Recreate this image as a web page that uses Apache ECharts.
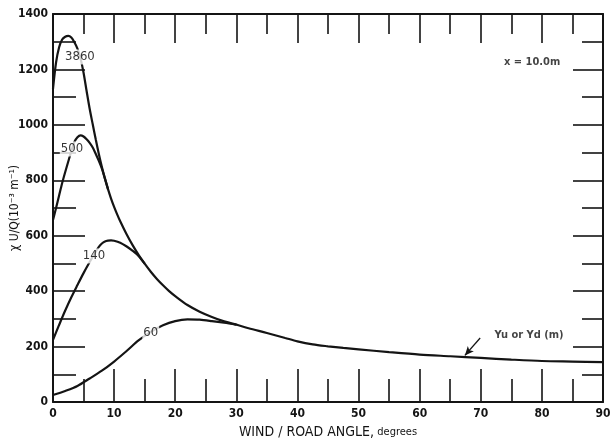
<!DOCTYPE html>
<html>
<head>
<meta charset="utf-8">
<script src="https://cdn.jsdelivr.net/npm/echarts@6/dist/echarts.min.js"></script>
<style>
html,body{margin:0;padding:0;background:#fff;}
#chart{width:610px;height:443px;}
</style>
</head>
<body>
<div id="chart"></div>
<script>
// ---- data ----
const xTicks = [0,10,20,30,40,50,60,70,80,90];
const yTicks = [0,200,400,600,800,1000,1200,1400];

// curve Y = 3860 m (its tail is the common envelope)
const curve3860X = [0,0.5,1,1.5,2,2.5,3,3.5,4,4.5,5,5.5,6,6.5,7,7.5,8,8.5,9,9.5,10,10.5,11,12,13,14,15,16,17,18,19,20,22,24,26,28,30,32,35,38,40,42.5,45,47.5,50,55,60,65,70,75,80,85,90];
const curve3860Y = [1130,1225,1280,1308,1318,1321,1315,1298,1275,1240,1188,1122,1058,1002,947,895,848,806,768,734,704,677,652,607,567,531,499,470,444,421,400,382,350,326,307,291,279,266,249,231,219,208,201,195,190,180,171,165,159,153,148,146,144];
// curve Y = 500 m
const curve500X = [0,0.5,1,1.5,2,2.5,3,3.5,4,4.5,5,5.5,6,6.5,7,7.5,8,8.5,9];
const curve500Y = [657,700,745,790,830,868,905,938,955,962,958,948,935,918,895,870,842,806,768];
// curve Y = 140 m
const curve140X = [0,1,2,3,4,5,6,7,7.5,8,8.5,9,9.5,10,11,12,13,14,15];
const curve140Y = [224,278,330,378,422,465,505,543,560,572,579,582,583,582,575,562,546,527,499];
// curve Y = 60 m
const curve60X = [0,2,4,6,8,10,12,14,16,18,20,22,24,26,28,30];
const curve60Y = [25,40,58,85,113,146,183,222,253,277,292,298,297,292,286,279];

// curve labels (value of Yu or Yd)
const curveLabelText = ['3860','500','140','60'];
const curveLabelX = [4.4,3.1,6.7,16.0];
const curveLabelY = [1245,913,527,249];

// annotations
const noteText = ['x = 10.0m','Yu or Yd (m)'];
const noteX = [78.4,77.9];
const noteY = [1227,242];
const arrowFrom = [69.9,231];
const arrowTo = [67.4,168];

// ---- chart ----
const zip = (xs, ys) => xs.map((x, i) => [x, ys[i]]);
const INK = '#141414';
const FONT = 'DejaVu Sans Condensed';

function xAx(pos, major, minor, labels) {
  return {
    type: 'value', position: pos, min: 0, max: 90, interval: 10,
    axisLine: {show: true, onZero: false, lineStyle: {color: INK, width: 2}},
    axisTick: {show: true, inside: true, length: major, lineStyle: {color: INK, width: 1.6}},
    minorTick: {show: true, splitNumber: 2, length: minor, lineStyle: {color: INK, width: 1.6}},
    splitLine: {show: false}, minorSplitLine: {show: false},
    axisLabel: {show: labels, color: INK, fontFamily: FONT, fontWeight: 'bold', fontSize: 12, margin: 6,
      formatter: v => xTicks.includes(v) ? String(v) : ''}
  };
}
function yAx(pos, major, minor, labels) {
  return {
    type: 'value', position: pos, min: 0, max: 1400, interval: 200,
    axisLine: {show: true, onZero: false, lineStyle: {color: INK, width: 2}},
    axisTick: {show: true, inside: true, length: major, lineStyle: {color: INK, width: 1.6}},
    minorTick: {show: true, splitNumber: 2, length: minor, lineStyle: {color: INK, width: 1.6}},
    splitLine: {show: false}, minorSplitLine: {show: false},
    axisLabel: {show: labels, color: INK, fontFamily: FONT, fontWeight: 'bold', fontSize: 12, margin: 5,
      formatter: v => yTicks.includes(v) ? String(v) : ''}
  };
}

const bottomX = xAx('bottom', 33, 23, true);
bottomX.name = '{a|WIND / ROAD ANGLE,} {b|degrees}';
bottomX.nameLocation = 'middle';
bottomX.nameGap = 23;
bottomX.nameMoveOverlap = false;
bottomX.nameTextStyle = {rich: {
  a: {fontFamily: FONT, fontSize: 14, color: INK},
  b: {fontFamily: FONT, fontSize: 11, color: INK}
}};
const topX = xAx('top', 29, 20, false);
const leftY = yAx('left', 32, 23, true);
leftY.name = 'χ U/Q(10⁻³ m⁻¹)';
leftY.nameLocation = 'middle';
leftY.nameGap = 32;
leftY.nameMoveOverlap = false;
leftY.nameTextStyle = {fontFamily: FONT, fontSize: 12, color: INK};
const rightY = yAx('right', 30, 21, false);

function curve(name, xs, ys) {
  return {
    name, type: 'line', data: zip(xs, ys), smooth: 0.3, symbol: 'none',
    lineStyle: {color: INK, width: 2.2}, xAxisIndex: 0, yAxisIndex: 0, z: 3
  };
}

const envelope = curve('3860', curve3860X, curve3860Y);
envelope.markLine = {
  silent: true, symbol: ['none', 'arrow'], symbolSize: [6, 9],
  lineStyle: {color: INK, width: 1.3, type: 'solid'}, label: {show: false},
  data: [[{coord: arrowFrom}, {coord: arrowTo}]]
};

const option = {
  animation: false,
  backgroundColor: '#ffffff',
  grid: {left: 53, right: 7, top: 14, bottom: 41, containLabel: false, outerBoundsMode: 'none'},
  xAxis: [bottomX, topX],
  yAxis: [leftY, rightY],
  series: [
    envelope,
    curve('500', curve500X, curve500Y),
    curve('140', curve140X, curve140Y),
    curve('60', curve60X, curve60Y),
    {
      name: 'curveLabels', type: 'scatter', symbolSize: 1, z: 10,
      itemStyle: {color: 'rgba(0,0,0,0)'},
      data: curveLabelText.map((t, i) => ({name: t, value: [curveLabelX[i], curveLabelY[i]]})),
      label: {show: true, position: 'inside', formatter: p => p.name,
        fontFamily: FONT, fontSize: 13, color: '#000', backgroundColor: '#ffffff', padding: [1, 1]}
    },
    {
      name: 'notes', type: 'scatter', symbolSize: 1, z: 10,
      itemStyle: {color: 'rgba(0,0,0,0)'},
      data: noteText.map((t, i) => ({name: t, value: [noteX[i], noteY[i]]})),
      label: {show: true, position: 'inside', formatter: p => p.name,
        fontFamily: FONT, fontSize: 11, fontWeight: 'bold', color: INK}
    }
  ]
};

const chart = echarts.init(document.getElementById('chart'), null, {renderer: 'canvas'});
chart.setOption(option);
</script>
</body>
</html>
